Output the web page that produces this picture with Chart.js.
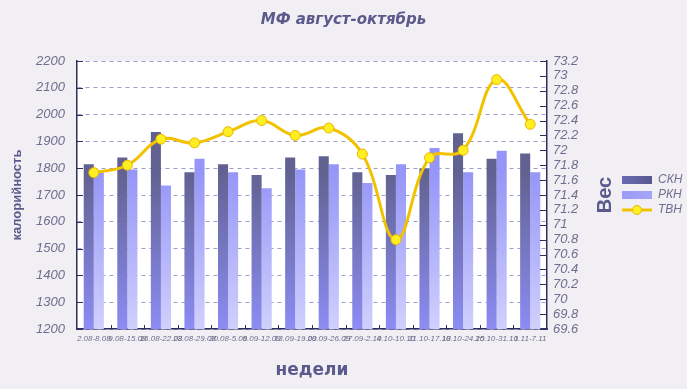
<!DOCTYPE html>
<html>
<head>
<meta charset="utf-8">
<script src="https://cdn.jsdelivr.net/npm/chart.js@4.4.1/dist/chart.umd.min.js"></script>
<style>
html, body { margin: 0; padding: 0; background: #f1eff4; }
#wrap { width: 687px; height: 389px; }
</style>
</head>
<body>
<div id="wrap"><canvas id="chart"></canvas></div>
<script>
// data
var weeks = ['2.08-8.08', '9.08-15.08', '16.08-22.08', '23.08-29.08', '30.08-5.09', '6.09-12.09', '13.09-19.09',
             '20.09-26.09', '27.09-2.10', '4.10-10.10', '11.10-17.10', '18.10-24.10', '25.10-31.10', '1.11-7.11'];
var skn = [1815, 1840, 1935, 1785, 1815, 1775, 1840, 1845, 1785, 1775, 1800, 1930, 1835, 1855];
var rkn = [1785, 1795, 1735, 1835, 1785, 1725, 1795, 1815, 1745, 1815, 1875, 1785, 1865, 1785];
var tvn = [71.7, 71.8, 72.15, 72.1, 72.25, 72.4, 72.2, 72.3, 71.95, 70.8, 71.9, 72.0, 72.95, 72.35];
var seriesNames = ['СКН', 'РКН', 'ТВН'];
var calRange = [1200, 2200, 100];
var weightRange = [69.6, 73.2, 0.2];

var INK = '#5a5a8c';
var TICK = '#6e6e8e';
var AXIS = '#2e2e5c';

function barGrad(chart, top, bottom) {
    var a = chart.chartArea;
    if (!a) return top;
    var g = chart.ctx.createLinearGradient(0, a.top + a.height * 0.42, 0, a.bottom);
    g.addColorStop(0, top);
    g.addColorStop(1, bottom);
    return g;
}

// legend symbols
function legendBox(c1, c2) {
    var cv = document.createElement('canvas');
    cv.width = 30; cv.height = 8;
    var x = cv.getContext('2d');
    var g = x.createLinearGradient(0, 0, 30, 0);
    g.addColorStop(0, c1); g.addColorStop(1, c2);
    x.fillStyle = g; x.fillRect(0, 0, 30, 8);
    return cv;
}
function legendLine() {
    var cv = document.createElement('canvas');
    cv.width = 30; cv.height = 12;
    var x = cv.getContext('2d');
    x.strokeStyle = '#f2c200'; x.lineWidth = 3;
    x.beginPath(); x.moveTo(0, 6); x.lineTo(30, 6); x.stroke();
    x.fillStyle = '#ffee22'; x.strokeStyle = '#e8b800'; x.lineWidth = 1;
    x.beginPath(); x.arc(15, 6, 4.5, 0, Math.PI * 2); x.fill(); x.stroke();
    return cv;
}
var legendIcons = [legendBox('#6a6ab4', '#58588e'), legendBox('#9c9cf8', '#a4a4fa'), legendLine()];

function fmt1(v) { return String(parseFloat(Number(v).toFixed(1))); }

var decor = {
    id: 'decor',
    beforeDraw: function(chart) {
        var a = chart.chartArea, ctx = chart.ctx;
        ctx.save();
        ctx.fillStyle = '#ffffff';
        ctx.fillRect(a.left, a.top, a.right - a.left, a.bottom - a.top);
        ctx.restore();
    },
    afterDraw: function(chart) {
        var a = chart.chartArea, ctx = chart.ctx;
        var y = chart.scales.y, y1 = chart.scales.y1;
        ctx.save();
        ctx.strokeStyle = AXIS;
        ctx.lineWidth = 1;
        ctx.beginPath();
        y.ticks.forEach(function(t, i) {
            var p = Math.round(y.getPixelForTick(i)) + 0.5;
            ctx.moveTo(a.left, p); ctx.lineTo(a.left + 6, p);
        });
        y1.ticks.forEach(function(t, i) {
            var p = Math.round(y1.getPixelForTick(i)) + 0.5;
            ctx.moveTo(a.right - 7, p); ctx.lineTo(a.right, p);
        });
        var step = (a.right - a.left) / weeks.length;
        for (var i = 1; i < weeks.length; i++) {
            var px = Math.round(a.left + step * i) + 0.5;
            ctx.moveTo(px, a.bottom); ctx.lineTo(px, a.bottom - 4);
        }
        ctx.stroke();
        // right axis title, reading bottom to top
        ctx.translate(y1.right - 14, (a.top + a.bottom) / 2);
        ctx.rotate(-Math.PI / 2);
        ctx.fillStyle = INK;
        ctx.font = 'bold 20px "Liberation Sans", Arial, sans-serif';
        ctx.textAlign = 'center';
        ctx.textBaseline = 'middle';
        ctx.fillText('Вес', 0, 0);
        ctx.restore();
    }
};

new Chart(document.getElementById('chart'), {
    type: 'bar',
    data: {
        labels: weeks,
        datasets: [{
            label: seriesNames[0],
            data: skn,
            yAxisID: 'y',
            backgroundColor: function(c) { return barGrad(c.chart, '#626292', '#8c8cf4'); },
            borderWidth: 0,
            categoryPercentage: 0.6,
            barPercentage: 1.0,
            order: 1
        }, {
            label: seriesNames[1],
            data: rkn,
            yAxisID: 'y',
            backgroundColor: function(c) { return barGrad(c.chart, '#9696f8', '#d0d0fd'); },
            borderWidth: 0,
            categoryPercentage: 0.6,
            barPercentage: 1.0,
            order: 1
        }, {
            type: 'line',
            label: seriesNames[2],
            data: tvn,
            yAxisID: 'y1',
            borderColor: '#f2c200',
            borderWidth: 3,
            tension: 0.4,
            pointRadius: 5,
            pointBackgroundColor: '#ffee22',
            pointBorderColor: '#e8b800',
            pointBorderWidth: 1,
            order: 0
        }]
    },
    options: {
        responsive: true,
        maintainAspectRatio: false,
        animation: false,
        layout: { padding: 0 },
        plugins: {
            title: {
                display: true,
                text: 'МФ август-октябрь',
                color: INK,
                font: { family: '"DejaVu Sans", Verdana, sans-serif', size: 15, weight: 'bold', style: 'italic' },
                padding: { top: 11, bottom: 32 }
            },
            legend: {
                position: 'right',
                fullSize: false,
                maxWidth: 68,
                labels: {
                    usePointStyle: true,
                    pointStyleWidth: 30,
                    padding: 3,
                    color: TICK,
                    font: { family: '"Liberation Sans", Arial, sans-serif', size: 12, style: 'italic' },
                    generateLabels: function(chart) {
                        return seriesNames.map(function(n, i) {
                            return { text: n, pointStyle: legendIcons[i], fillStyle: 'transparent',
                                     strokeStyle: 'transparent', lineWidth: 0, fontColor: TICK,
                                     hidden: false, datasetIndex: i };
                        });
                    }
                }
            },
            tooltip: { enabled: false }
        },
        scales: {
            x: {
                grid: { display: false, drawTicks: false },
                border: { color: AXIS, width: 1.5 },
                ticks: {
                    color: TICK, maxRotation: 0, autoSkip: false, padding: 5,
                    font: { family: '"Liberation Sans", Arial, sans-serif', size: 8, style: 'italic' }
                },
                title: {
                    display: true, text: 'недели', color: INK,
                    font: { family: '"DejaVu Sans", Verdana, sans-serif', size: 17, weight: 'bold' },
                    padding: { top: 0, bottom: 8 }
                },
                afterFit: function(s) { s.height = 60; }
            },
            y: {
                position: 'left',
                min: calRange[0], max: calRange[1],
                grid: { color: '#9c9ccc', drawTicks: false, lineWidth: 1 },
                border: { color: AXIS, width: 1.5, dash: [4, 4] },
                ticks: {
                    stepSize: calRange[2], color: TICK, padding: 12, autoSkip: false,
                    callback: function(v) { return String(v); },
                    font: { family: '"Liberation Sans", Arial, sans-serif', size: 13, style: 'italic' }
                },
                title: {
                    display: true, text: 'калорийность', color: INK,
                    font: { family: '"Liberation Sans", Arial, sans-serif', size: 13, weight: 'bold' },
                    padding: { top: 10, bottom: 0 }
                },
                afterFit: function(s) { s.width = 77; }
            },
            y1: {
                position: 'right',
                min: weightRange[0], max: weightRange[1],
                grid: { drawOnChartArea: false, drawTicks: false },
                border: { color: AXIS, width: 1.5 },
                ticks: {
                    stepSize: weightRange[2], color: TICK, padding: 6, autoSkip: false,
                    callback: function(v) { return fmt1(v); },
                    font: { family: '"Liberation Sans", Arial, sans-serif', size: 13, style: 'italic' }
                },
                afterFit: function(s) { s.width = 72; }
            }
        }
    },
    plugins: [decor]
});
</script>
</body>
</html>
